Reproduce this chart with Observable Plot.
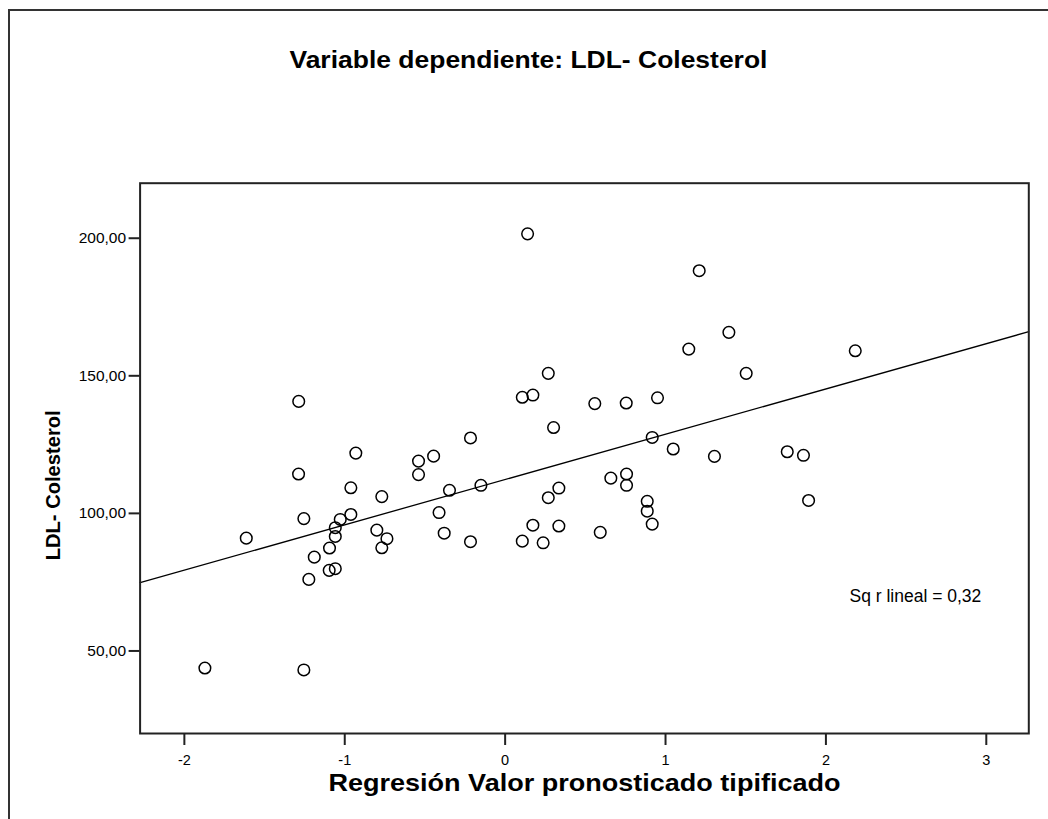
<!DOCTYPE html>
<html>
<head>
<meta charset="utf-8">
<script src="https://cdn.jsdelivr.net/npm/d3@7"></script>
<script src="https://cdn.jsdelivr.net/npm/@observablehq/plot@0.6"></script>
<style>
  html, body { margin: 0; padding: 0; background: #fff; }
  #wrap { position: relative; width: 1048px; height: 819px; overflow: hidden; }
  #border { position: absolute; left: 8px; top: 9px; width: 1100px; height: 900px;
            border-left: 2px solid #333; border-top: 2px solid #333; box-sizing: border-box; }
  #chart { position: absolute; left: 0; top: 0; }
</style>
</head>
<body>
<div id="wrap"><div id="border"></div><div id="chart"></div></div>
<script>
// Standardized predicted value (x) and LDL cholesterol (y), one entry per case
const predicted = [
  -1.287, -0.931, 0.140, 1.210, 1.395, 1.145, 0.269, 0.107, 0.173, 0.559,
  0.755, 0.950, 0.302, -0.216, -0.446, -0.540, 0.917, 1.048, 1.305, 1.503,
  2.183, 1.759, 1.860, 1.892, -1.288, -0.540, -0.962, -0.769, -0.412, -1.255,
  -1.028, -0.962, -1.059, -1.059, -1.614, -0.800, -0.737, -0.769, -1.095, -1.190,
  -1.097, -1.059, -1.224, -1.872, -1.255, -0.347, -0.151, -0.380, -0.216, 0.107,
  0.173, 0.237, 0.269, 0.335, 0.335, 0.593, 0.659, 0.757, 0.757, 0.886,
  0.886, 0.917
];
const ldl = [
  140.7, 121.9, 201.6, 188.2, 165.8, 159.7, 150.9, 142.2, 143.0, 139.9,
  140.1, 142.0, 131.2, 127.4, 120.8, 119.0, 127.6, 123.4, 120.7, 150.9,
  159.1, 122.4, 121.1, 104.7, 114.3, 114.1, 109.3, 106.1, 100.3, 98.1,
  97.8, 99.6, 94.8, 91.6, 91.0, 93.9, 90.8, 87.5, 87.4, 84.1,
  79.3, 79.9, 76.0, 43.8, 43.1, 108.4, 110.2, 92.8, 89.7, 89.9,
  95.7, 89.3, 105.7, 109.2, 95.4, 93.1, 112.8, 114.3, 110.2, 104.4,
  100.8, 96.1
];

// Linear fit: intercept and slope of LDL on the standardized prediction
const fitIntercept = 112.3;
const fitSlope = 16.46;
const rSquared = 0.32;

const xDomain = [-2.276, 3.265];
const yDomain = [20, 220];
const xTicks = [-2, -1, 0, 1, 2, 3];
const yTicks = [50, 100, 150, 200];

const titleText = "Variable dependiente: LDL- Colesterol";
const xLabel = "Regresión Valor pronosticado tipificado";
const yLabel = "LDL- Colesterol";

const points = predicted.map((x, i) => ({x, y: ldl[i]}));
const fit = xDomain.map(x => ({x, y: fitIntercept + fitSlope * x}));
const comma2 = d => d.toFixed(2).replace(".", ",");
const plain = d => String(d);

const font = "'Liberation Sans', Arial, sans-serif";

const chart = Plot.plot({
  width: 1048,
  height: 819,
  marginLeft: 139.6,
  marginRight: 19.7,
  marginTop: 182.7,
  marginBottom: 86,
  style: {fontFamily: font, background: "transparent", color: "#000"},
  x: {domain: xDomain, ticks: xTicks, label: null, tickFormat: plain},
  y: {domain: yDomain, ticks: yTicks, label: null, tickFormat: comma2},
  marks: [
    Plot.line(fit, {x: "x", y: "y", stroke: "#000", strokeWidth: 1.3}),
    Plot.dot(points, {x: "x", y: "y", r: 5.8, stroke: "#000", strokeWidth: 1.5, fill: "none"}),
    Plot.frame({stroke: "#222", strokeWidth: 2}),
    Plot.axisX({ticks: xTicks, tickFormat: plain, tickSize: 12, tickPadding: 9, fontSize: 14.5, stroke: "#222", strokeWidth: 2}),
    Plot.axisY({ticks: yTicks, tickSize: 11, tickPadding: 3, fontSize: 15.5, tickFormat: comma2, stroke: "#222", strokeWidth: 2}),
    Plot.text([titleText], {frameAnchor: "top", textAnchor: "middle", lineAnchor: "middle", dx: -56, dy: -122.7, fontSize: 24, fontWeight: "bold", text: d => d}),
    Plot.text([xLabel], {frameAnchor: "bottom", textAnchor: "middle", lineAnchor: "middle", dy: 50, fontSize: 24, fontWeight: "bold", text: d => d}),
    Plot.text([yLabel], {frameAnchor: "left", textAnchor: "middle", lineAnchor: "middle", dx: -86.6, dy: 27, rotate: -90, fontSize: 19.5, fontWeight: "bold", text: d => d}),
    Plot.text([`Sq r lineal = ${comma2(rSquared)}`], {frameAnchor: "top-left", textAnchor: "start", lineAnchor: "middle", dx: 709.4, dy: 413.3, fontSize: 17.5, text: d => d})
  ]
});

// The headings are set in a slightly widened face: stretch them to their run length
const runLength = new Map([[titleText, 478], [xLabel, 512], [yLabel, 150]]);
d3.select(chart).selectAll("text").each(function() {
  const len = runLength.get(this.textContent);
  if (len) d3.select(this).attr("textLength", len).attr("lengthAdjust", "spacingAndGlyphs");
});

document.getElementById("chart").appendChild(chart);
</script>
</body>
</html>
